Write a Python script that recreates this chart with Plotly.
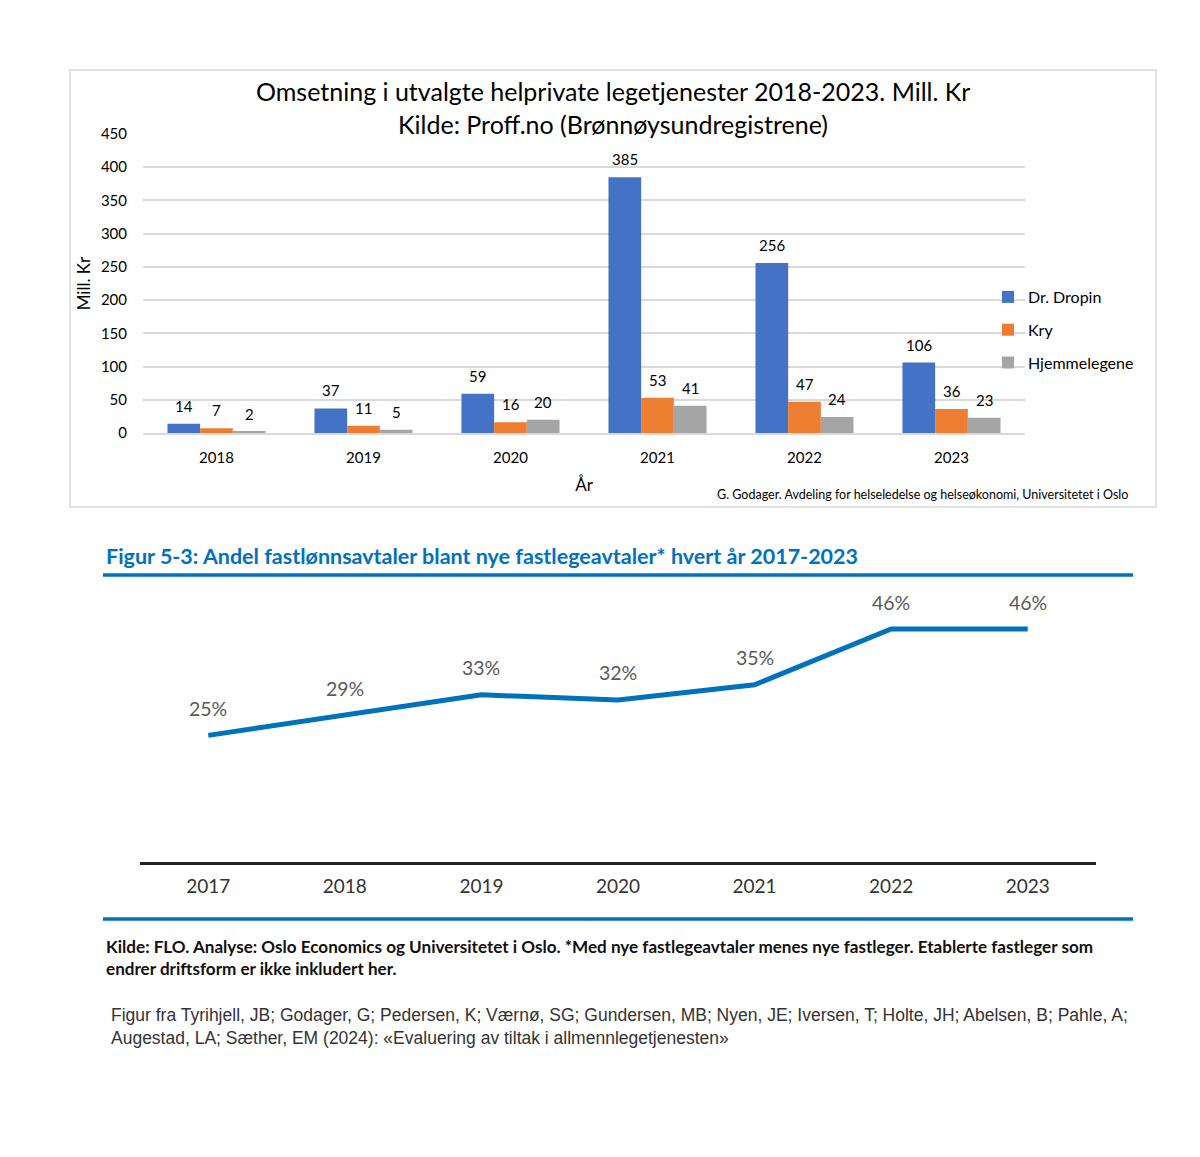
import plotly.graph_objects as go

# ---------------- data ----------------
years_bar = [2018, 2019, 2020, 2021, 2022, 2023]
dr_dropin = [14, 37, 59, 385, 256, 106]
kry = [7, 11, 16, 53, 47, 36]
hjemmelegene = [2, 5, 20, 41, 24, 23]
series_names = ["Dr. Dropin", "Kry", "Hjemmelegene"]
y_ticks_bar = [0, 50, 100, 150, 200, 250, 300, 350, 400, 450]

years_line = [2017, 2018, 2019, 2020, 2021, 2022, 2023]
share_fastlonn = [25, 29, 33, 32, 35, 46, 46]

# ---------------- layout helpers ----------------
W, H = 1200, 1157
OFF = 8  # page body margin
def px(x):
    return (x - OFF) / W
def py(y):
    return 1 - (y - OFF) / H

bar_colors = ["#4472C4", "#ED7D31", "#A5A5A5"]
bargap = 0.333
calib = "Lato, 'Noto Sans', sans-serif"
fut = "Lato, 'Noto Sans', sans-serif"

fig = go.Figure()
all_series = [dr_dropin, kry, hjemmelegene]
for name, vals, col in zip(series_names, all_series, bar_colors):
    fig.add_trace(go.Bar(
        x=years_bar, y=vals, name=name, marker_color=col,
        marker_line_width=0, legendgroup=name,
        xaxis="x", yaxis="y", hoverinfo="x+y+name",
    ))

fig.add_trace(go.Scatter(
    x=years_line, y=share_fastlonn, mode="lines",
    line=dict(color="#0072BC", width=5), showlegend=False,
    xaxis="x2", yaxis="y2",
))

annotations = []
# bar value labels
x_dom = (143, 1025)
cat_px = (x_dom[1] - x_dom[0]) / len(years_bar)
bar_px = cat_px * (1 - bargap) / 3
for i, vals in enumerate(all_series):
    for yr, v in zip(years_bar, vals):
        annotations.append(dict(
            x=yr, y=v, xref="x", yref="y", text=str(v), showarrow=False,
            xshift=(i - 1) * bar_px, yshift=18, yanchor="middle",
            font=dict(family=calib, size=15, color="#000000"),
        ))
# line value labels
for yr, v in zip(years_line, share_fastlonn):
    annotations.append(dict(
        x=yr, y=v, xref="x2", yref="y2", text=f"{v}%", showarrow=False,
        yshift=27, yanchor="middle",
        font=dict(family=fut, size=19.5, color="#595959"),
    ))

# titles and texts
annotations += [
    dict(x=px(613), y=py(91), xref="paper", yref="paper", showarrow=False,
         text="Omsetning i utvalgte helprivate legetjenester 2018-2023. Mill. Kr",
         font=dict(family=calib, size=25, color="#000000"), yanchor="middle"),
    dict(x=px(613), y=py(124), xref="paper", yref="paper", showarrow=False,
         text="Kilde: Proff.no (Brønnøysundregistrene)",
         font=dict(family=calib, size=25, color="#000000"), yanchor="middle"),
    dict(x=px(1130), y=py(494), xref="paper", yref="paper", showarrow=False,
         text="G. Godager. Avdeling for helseledelse og helseøkonomi, Universitetet i Oslo",
         font=dict(family=calib, size=12.5, color="#000000"), xanchor="right", yanchor="middle"),
    dict(x=px(104), y=py(556), xref="paper", yref="paper", showarrow=False,
         text="<b>Figur 5-3: Andel fastlønnsavtaler blant nye fastlegeavtaler* hvert år 2017-2023</b>",
         font=dict(family=fut, size=21.5, color="#0070C0"), xanchor="left", yanchor="middle"),
    dict(x=px(104), y=py(957), xref="paper", yref="paper", showarrow=False, align="left",
         text="<b>Kilde: FLO. Analyse: Oslo Economics og Universitetet i Oslo. *Med nye fastlegeavtaler menes nye fastleger. Etablerte fastleger som<br>endrer driftsform er ikke inkludert her.</b>",
         font=dict(family=fut, size=17.1, color="#111111"), xanchor="left", yanchor="middle"),
    dict(x=px(109), y=py(1026), xref="paper", yref="paper", showarrow=False, align="left",
         text="Figur fra Tyrihjell, JB; Godager, G; Pedersen, K; Værnø, SG; Gundersen, MB; Nyen, JE; Iversen, T; Holte, JH; Abelsen, B; Pahle, A;<br>Augestad, LA; Sæther, EM (2024): «Evaluering av tiltak i allmennlegetjenesten»",
         font=dict(family="'Liberation Sans', Arial, sans-serif", size=17.5, color="#333333"),
         xanchor="left", yanchor="middle"),
]

shapes = [
    dict(type="rect", xref="paper", yref="paper", x0=px(70), x1=px(1156), y0=py(507), y1=py(70),
         line=dict(color="#D9D9D9", width=1.5), layer="below"),
    dict(type="line", xref="paper", yref="paper", x0=px(103), x1=px(1133), y0=py(575), y1=py(575),
         line=dict(color="#0070C0", width=3.5)),
    dict(type="line", xref="paper", yref="paper", x0=px(103), x1=px(1133), y0=py(919), y1=py(919),
         line=dict(color="#0070C0", width=3.5)),
]

px_per_pp = (862 - 629) / 46
fig.update_layout(
    width=W, height=H, margin=dict(l=0, r=0, t=0, b=0, autoexpand=False),
    paper_bgcolor="white", plot_bgcolor="white",
    barmode="group", bargap=bargap, bargroupgap=0,
    font=dict(family=calib, color="#000000"),
    annotations=annotations, shapes=shapes,
    legend=dict(x=px(988), y=py(280), xanchor="left", yanchor="top",
                font=dict(family=calib, size=16, color="#000000"),
                tracegroupgap=9, bgcolor="rgba(0,0,0,0)"),
    xaxis=dict(domain=[px(143), px(1025)], anchor="y", type="linear",
               range=[years_bar[0] - 0.5, years_bar[-1] + 0.5], tickvals=years_bar,
               showgrid=False, showline=True, linecolor="#D9D9D9", linewidth=1.5,
               zeroline=False, ticks="", tickfont=dict(family=calib, size=15, color="#000000"),
               ticklabelstandoff=10,
               title=dict(text="År", font=dict(family=calib, size=17, color="#000000"), standoff=14)),
    yaxis=dict(domain=[py(433), py(134)], anchor="x", range=[0, 450],
               tickvals=y_ticks_bar, showgrid=True, gridcolor="#D9D9D9", gridwidth=1.5,
               zeroline=False, showline=False, ticks="",
               tickfont=dict(family=calib, size=15, color="#000000"),
               ticklabelstandoff=15,
               title=dict(text="Mill. Kr", font=dict(family=calib, size=17, color="#000000"), standoff=5)),
    xaxis2=dict(domain=[px(140), px(1096)], anchor="y2", type="linear",
                range=[years_line[0] - 0.5, years_line[-1] + 0.5], tickvals=years_line,
                showgrid=False, showline=True, linecolor="#222222", linewidth=2.5,
                zeroline=False, ticks="", tickfont=dict(family=fut, size=19, color="#333333"),
                ticklabelstandoff=5),
    yaxis2=dict(domain=[py(862), py(600)], anchor="x2", range=[0, (862 - 600) / px_per_pp],
                visible=False, showgrid=False, zeroline=False),
)

fig.write_html("out.html")
